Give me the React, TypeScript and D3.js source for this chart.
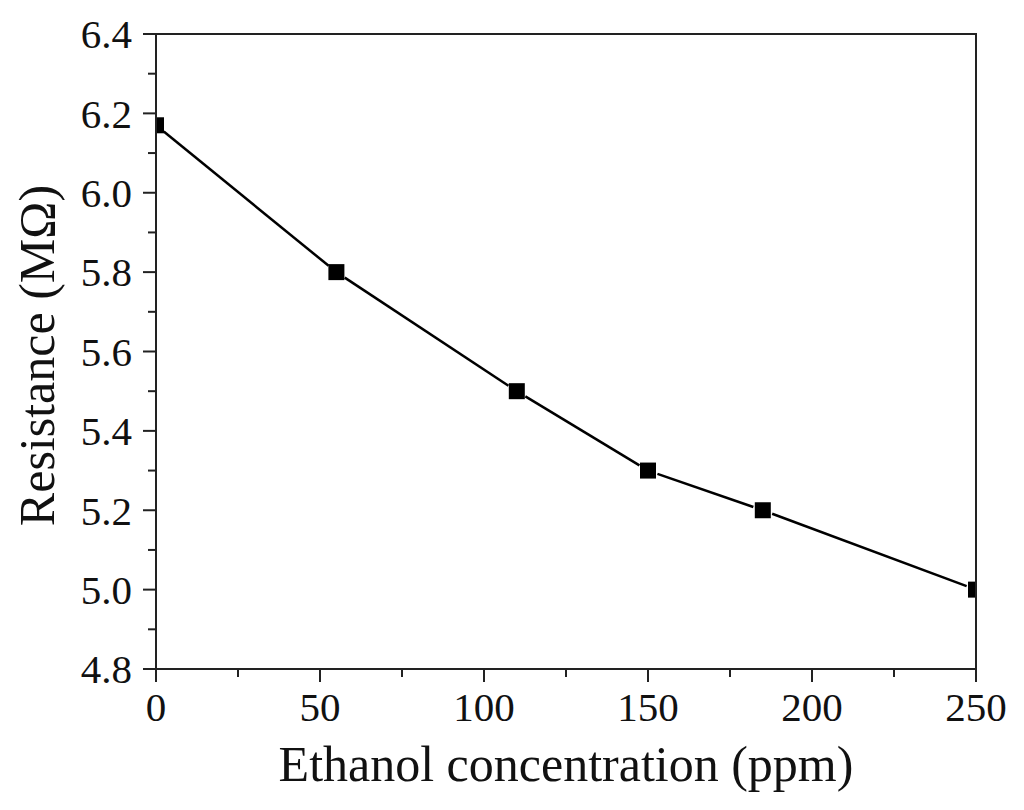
import React from "react";
import * as d3 from "d3";

const concentration = [0, 55, 110, 150, 185, 250];
const resistance = [6.17, 5.8, 5.5, 5.3, 5.2, 5.0];
const xTicks = [0, 50, 100, 150, 200, 250];
const xMinor = [25, 75, 125, 175, 225];
const yTicks = [4.8, 5.0, 5.2, 5.4, 5.6, 5.8, 6.0, 6.2, 6.4];
const yMinor = [4.9, 5.1, 5.3, 5.5, 5.7, 5.9, 6.1, 6.3];
const xTitle = "Ethanol concentration (ppm)";
const yTitle = "Resistance (MΩ)";

export default function App() {
  const W = 1024, H = 810;
  const left = 156, right = 976, top = 34, bottom = 669;
  const x = d3.scaleLinear().domain([0, 250]).range([left, right]);
  const y = d3.scaleLinear().domain([4.8, 6.4]).range([bottom, top]);
  const pts = concentration.map((c, i) => [x(c), y(resistance[i])] as [number, number]);
  const ms = 16;
  const gap = 10;
  const segs = pts.slice(0, -1).map((p, i) => {
    const q = pts[i + 1];
    const dx = q[0] - p[0], dy = q[1] - p[1];
    const len = Math.hypot(dx, dy);
    const ux = dx / len, uy = dy / len;
    return [[p[0] + ux * gap, p[1] + uy * gap], [q[0] - ux * gap, q[1] - uy * gap]] as [number, number][];
  });
  const line = d3.line();
  const font = "'Liberation Serif', 'Times New Roman', serif";
  return (
    <svg width={W} height={H} style={{ position: "absolute", left: 0, top: 0, background: "#fff" }}>
      <defs>
        <clipPath id="plot">
          <rect x={left} y={top} width={right - left} height={bottom - top} />
        </clipPath>
      </defs>
      <g clipPath="url(#plot)">
        {segs.map((s, i) => (
          <path key={i} d={line(s) || ""} stroke="#000" strokeWidth={2.5} fill="none" />
        ))}
        {pts.map((p, i) => (
          <rect key={i} x={p[0] - ms / 2} y={p[1] - ms / 2} width={ms} height={ms} fill="#000" />
        ))}
      </g>
      <rect x={left} y={top} width={right - left} height={bottom - top} fill="none" stroke="#222" strokeWidth={2} />
      {yTicks.map((t) => (
        <g key={"y" + t}>
          <line x1={left - 13} x2={left} y1={y(t)} y2={y(t)} stroke="#222" strokeWidth={2} />
          <text x={left - 24} y={y(t)} dy="0.35em" textAnchor="end" fontFamily={font} fontSize={41} fill="#111">
            {t.toFixed(1)}
          </text>
        </g>
      ))}
      {yMinor.map((t) => (
        <line key={"ym" + t} x1={left - 8} x2={left} y1={y(t)} y2={y(t)} stroke="#222" strokeWidth={2} />
      ))}
      {xTicks.map((t) => (
        <g key={"x" + t}>
          <line x1={x(t)} x2={x(t)} y1={bottom} y2={bottom + 13} stroke="#222" strokeWidth={2} />
          <text x={x(t)} y={bottom + 52} textAnchor="middle" fontFamily={font} fontSize={41} fill="#111">
            {t}
          </text>
        </g>
      ))}
      {xMinor.map((t) => (
        <line key={"xm" + t} x1={x(t)} x2={x(t)} y1={bottom} y2={bottom + 8} stroke="#222" strokeWidth={2} />
      ))}
      <text x={(left + right) / 2} y={bottom + 112} textAnchor="middle" fontFamily={font} fontSize={50} fill="#111">
        {xTitle}
      </text>
      <text transform={`translate(${54},${(top + bottom) / 2 + 4}) rotate(-90)`} textAnchor="middle" fontFamily={font} fontSize={50} fill="#111">
        {yTitle}
      </text>
    </svg>
  );
}
